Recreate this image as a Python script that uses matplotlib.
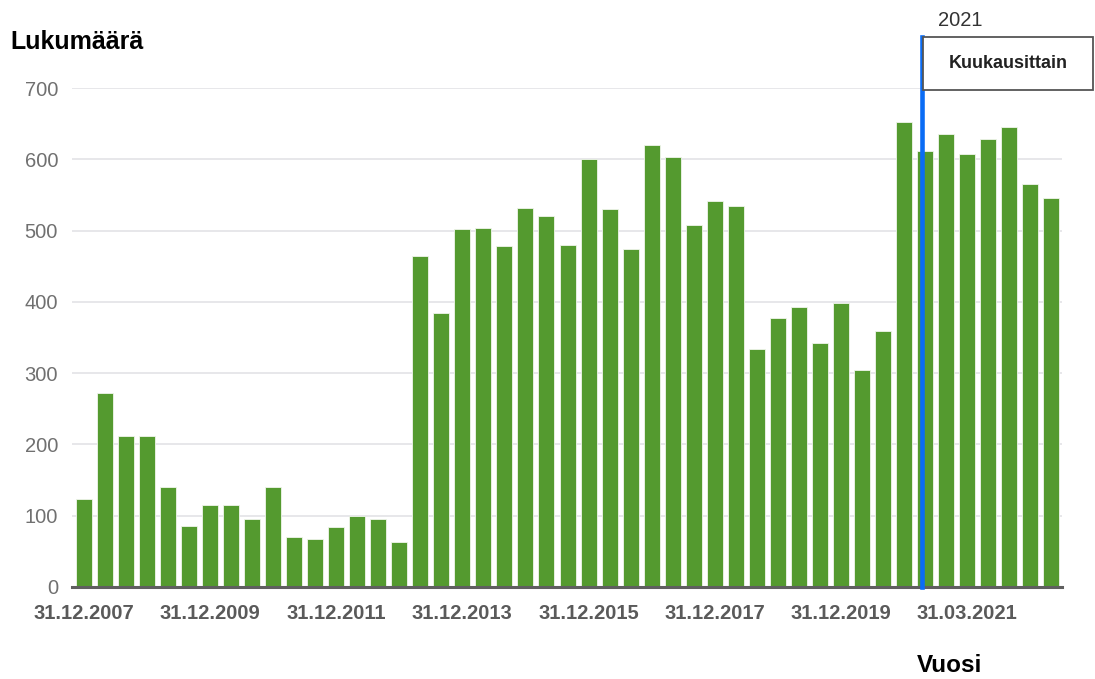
import matplotlib
matplotlib.use("Agg")
import matplotlib.pyplot as plt
import pandas as pd
from matplotlib.patches import Rectangle

# bars every 4 months until end of 2020, then monthly in 2021
dates = list(pd.date_range("2007-12-31", "2020-12-31", freq="4ME")) + \
        list(pd.date_range("2021-01-31", "2021-07-31", freq="ME"))
labels = [d.strftime("%d.%m.%Y") for d in dates]

counts = [123, 272, 212, 212, 140, 85, 115, 115, 95, 140, 70, 68, 84, 99, 95, 63,
          465, 385, 502, 504, 478, 532, 521, 480, 601, 530, 474, 620, 603, 508,
          541, 534, 334, 377, 393, 342, 399, 305, 359, 652, 612, 636, 608, 628,
          645, 566, 545]

yticks = [0, 100, 200, 300, 400, 500, 600, 700]
tick_every = 6
split_pos = 39.87   # where monthly data starts

W, H = 1095, 679
fig = plt.figure(figsize=(W / 100, H / 100), dpi=100)
ax = fig.add_axes([72 / W, 1 - 587 / H, (1062 - 72) / W, (587 - 88) / H])

x = list(range(len(counts)))
ax.bar(x, counts, width=0.76, color="#549a2f", edgecolor="#f0f5ec", linewidth=0.6, zorder=2)

ax.set_xlim(-0.55, len(counts) - 0.5)
ax.set_ylim(0, 700)
ax.set_yticks(yticks)
ax.set_yticklabels([str(v) for v in yticks], fontsize=14.5, color="#707070",
                   family="Liberation Sans")
ax.set_xticks(x[::tick_every])
ax.set_xticklabels(labels[::tick_every], fontsize=14.5, fontweight="bold", color="#5a5a5a",
                   family="Liberation Sans")
ax.tick_params(axis="y", length=0, pad=10)
ax.tick_params(axis="x", length=0, pad=12)

ax.grid(axis="y", color="#e3e3e6", linewidth=1.2, zorder=0)
ax.set_axisbelow(True)
for s in ["top", "right", "left"]:
    ax.spines[s].set_visible(False)
ax.spines["bottom"].set_color("#5f5f5f")
ax.spines["bottom"].set_linewidth(2.2)
ax.spines["bottom"].set_zorder(3)

# marker line for the change to monthly figures
ax.axvline(split_pos, ymin=0, ymax=(587 - 37) / (587 - 88), color="#0a6cf5",
           linewidth=3.3, clip_on=False, zorder=4)

fig.patches.append(Rectangle((923 / W, 1 - 90 / H), 170 / W, 53 / H,
                             transform=fig.transFigure, facecolor="white",
                             edgecolor="#555555", linewidth=1.3, zorder=5))
fig.text(1008 / W, 1 - 63 / H, "Kuukausittain", ha="center", va="center",
         fontsize=13, fontweight="bold", color="#222222", family="Liberation Sans", zorder=6)
fig.text(960 / W, 1 - 20 / H, "2021", ha="center", va="center", fontsize=14.5,
         color="#333333", family="Liberation Sans")

fig.text(10 / W, 1 - 42 / H, "Lukumäärä", ha="left", va="center", fontsize=18,
         fontweight="bold", color="black", family="Liberation Sans")
fig.text(950 / W, 1 - 665 / H, "Vuosi", ha="center", va="center", fontsize=17.5,
         fontweight="bold", color="black", family="Liberation Sans")

fig.savefig("out.png", dpi=100, facecolor="white")
